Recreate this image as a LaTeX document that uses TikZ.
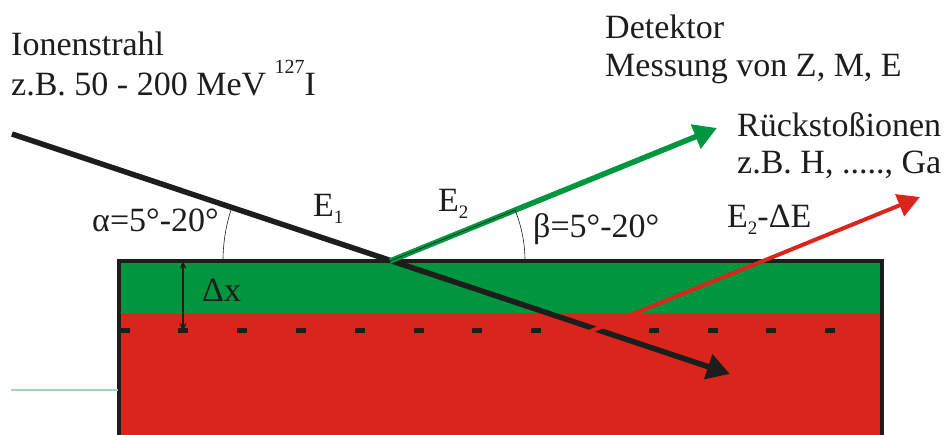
\documentclass[tikz,border=0pt]{standalone}
\usepackage{fontspec}
\setmainfont{Liberation Serif}
\usetikzlibrary{arrows.meta}
\definecolor{lgreen}{HTML}{009640}
\definecolor{lred}{HTML}{DA251D}
\definecolor{lblack}{HTML}{1D1D1B}
\definecolor{pale}{HTML}{9ADBB4}
\newcommand\lsub[1]{\raisebox{-7pt}{\fontsize{19}{19}\selectfont #1}}
\newcommand\lsup[1]{\raisebox{22pt}{\fontsize{20}{20}\selectfont #1}}
\begin{document}
\begin{tikzpicture}[x=1pt,y=1pt,
  lbl/.style={anchor=base west,inner sep=0pt,font=\fontsize{34}{40}\selectfont,text=lblack},
  beam/.style={line width=5.5pt,-{Triangle[length=23pt,width=25pt]}},
  thin/.style={line width=0.6pt,lblack}]
\useasboundingbox (0,0) rectangle (947,435);
% target
\fill[lgreen] (119,122) rectangle (882,174);
\fill[lred] (119,-3) rectangle (882,122);
\draw[lblack,line width=3.5pt] (119,-3) -- (119,174) -- (882,174) -- (882,-3);
\draw[pale,line width=1.3pt] (11,45) -- (118,45);
% dotted depth line
\foreach \k in {0,...,12}{
  \ifnum\k=8\relax\else
  \fill[lblack] ({124.5+58.8*\k-5},101.5) rectangle ({124.5+58.8*\k+5},106.5);
  \fi
}
% coordinates
\coordinate (beamS) at (12,301);
\coordinate (beamT) at (730,61);
\coordinate (vtx) at (390,174);
\coordinate (grT) at (717,307);
\coordinate (rdS) at (590,103.5);
\coordinate (rdT) at (920,238);
\coordinate (dxT) at (183,174);
\coordinate (dxB) at (183,104);
% rays
\draw[beam,lblack] (beamS) -- (beamT);
\draw[beam,lgreen] (vtx) -- (grT);
\draw[line width=4pt,lred,-{Triangle[length=22pt,width=23pt]}] (rdS) -- (rdT);
\draw[thin] (vtx) -- ++(22.13:135);
% angle arcs
\draw[thin] (vtx) ++(180:167) arc[start angle=180,end angle=161.52,radius=167];
\draw[thin] (vtx) ++(0:135) arc[start angle=0,end angle=22.13,radius=135];
% thickness arrow
\draw[lblack,line width=1.2pt,{Stealth[length=8pt,width=7pt]}-{Stealth[length=8pt,width=7pt]}] (dxT) -- (dxB);
% labels
\node[lbl] (ion1) at (11,379) {Ionenstrahl};
\node[lbl] (ion2) at (11,339) {z.B. 50 - 200 MeV \lsup{127}I};
\node[lbl] (det1) at (605,396) {Detektor};
\node[lbl] (det2) at (605,358) {Messung von Z, M, E};
\node[lbl] (rk1) at (737,298) {Rückstoßionen};
\node[lbl] (rk2) at (737,261) {z.B. H, ....., Ga};
\node[lbl] (alpha) at (92,203) {α=5°-20°};
\node[lbl] (beta) at (533,197) {β=5°-20°};
\node[lbl] (e1) at (313,218) {E\lsub{1}};
\node[lbl] (e2) at (438,223) {E\lsub{2}};
\node[lbl] (e2de) at (727,207) {E\lsub{2}-ΔE};
\node[lbl] (dx) at (202,133) {Δx};
\end{tikzpicture}
\end{document}
